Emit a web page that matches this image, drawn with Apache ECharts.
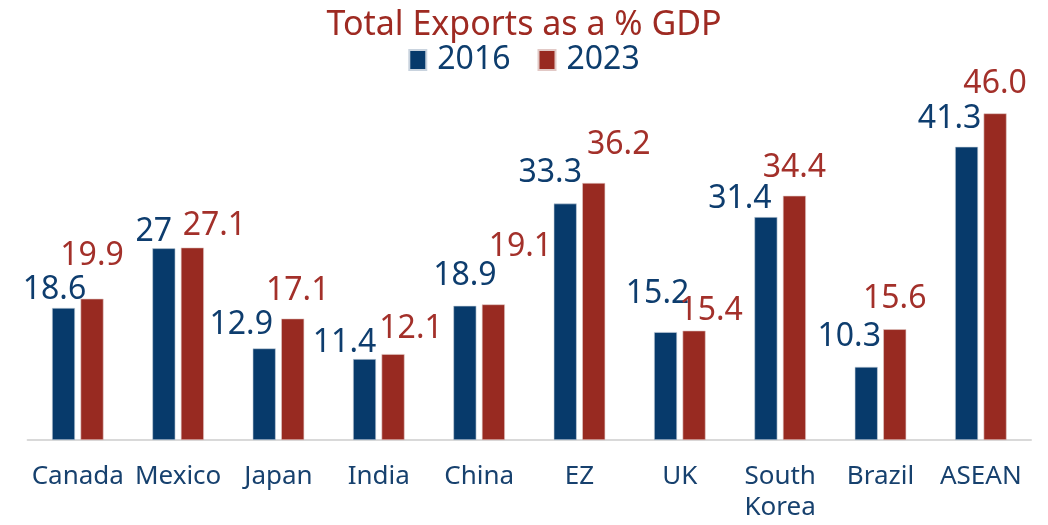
<!DOCTYPE html>
<html>
<head>
<meta charset="utf-8">
<title>Total Exports as a % GDP</title>
<script src="https://cdn.jsdelivr.net/npm/echarts@6/dist/echarts.min.js"></script>
<style>
  html, body { margin: 0; padding: 0; background: #ffffff; }
  #chart { width: 1048px; height: 525px; }
</style>
</head>
<body>
<div id="chart"></div>
<script>
// Exports as a share of GDP, by economy
const categories = ['Canada', 'Mexico', 'Japan', 'India', 'China', 'EZ', 'UK', 'South\nKorea', 'Brazil', 'ASEAN'];
const exports2016 = [18.6, 27, 12.9, 11.4, 18.9, 33.3, 15.2, 31.4, 10.3, 41.3];
const exports2023 = [19.9, 27.1, 17.1, 12.1, 19.1, 36.2, 15.4, 34.4, 15.6, 46.0];
const seriesNames = ['2016', '2023'];

// Label placement: [dx, dy] of each value label's centre from its bar's top centre
const labelShift2016 = [[-9, -19], [-10, -17], [-23, -25], [-20, -17], [0, -31], [-15, -32], [-8, -39], [-26, -19], [-17, -31], [-17, -29]];
const labelShift2023 = [[0, -44], [22, -23], [5, -29], [18, -26], [27, -58], [25, -39], [17, -21], [0, -29], [0, -31], [0, -31]];

const BLUE = '#073a6b';
const RED = '#982a21';
const LABEL_SIZE = 32;

function withLabels(values, shifts, color, fmt) {
  return values.map((v, i) => ({
    value: v,
    label: {
      offset: [shifts[i][0], shifts[i][1] + LABEL_SIZE / 2 + 1],
      color: color,
      formatter: () => fmt(v)
    }
  }));
}

const chart = echarts.init(document.getElementById('chart'), null, { renderer: 'canvas' });

const labelBase = {
  show: true,
  position: 'top',
  distance: 0,
  fontFamily: 'Noto Sans',
  fontSize: LABEL_SIZE,
  lineHeight: LABEL_SIZE
};

chart.setOption({
  animation: false,
  backgroundColor: '#ffffff',
  title: {
    text: 'Total Exports as a % GDP',
    left: 'center',
    top: 1,
    textStyle: {
      fontFamily: 'Noto Sans',
      fontWeight: 'normal',
      fontSize: 34,
      lineHeight: 38,
      color: '#9e2a22'
    }
  },
  legend: {
    data: seriesNames,
    top: 38,
    left: 'center',
    itemWidth: 17,
    itemHeight: 20,
    itemGap: 27,
    icon: 'rect',
    textStyle: {
      fontFamily: 'Noto Sans',
      fontSize: 32,
      lineHeight: 34,
      color: '#0d3d6d',
      padding: [0, 0, 0, 6]
    }
  },
  grid: {
    left: 27.6,
    right: 17,
    top: 85,
    bottom: 85
  },
  xAxis: {
    type: 'category',
    data: categories,
    axisLine: { show: true, lineStyle: { color: '#d9d9d9', width: 2 } },
    axisTick: { show: false },
    axisLabel: {
      interval: 0,
      margin: 21,
      fontFamily: 'Noto Sans',
      fontSize: 26,
      lineHeight: 31,
      color: '#17416e'
    }
  },
  yAxis: {
    type: 'value',
    min: 0,
    max: 50,
    show: false,
    splitLine: { show: false }
  },
  series: [
    {
      name: seriesNames[0],
      type: 'bar',
      barWidth: 23,
      barGap: '24%',
      itemStyle: { color: BLUE, borderColor: '#c9d3de', borderWidth: 0.6 },
      label: labelBase,
      data: withLabels(exports2016, labelShift2016, '#0e3d6e', v => String(v))
    },
    {
      name: seriesNames[1],
      type: 'bar',
      barWidth: 23,
      itemStyle: { color: RED, borderColor: '#e2c9c6', borderWidth: 0.6 },
      label: labelBase,
      data: withLabels(exports2023, labelShift2023, '#a3302a', v => v.toFixed(1))
    }
  ]
});
</script>
</body>
</html>
